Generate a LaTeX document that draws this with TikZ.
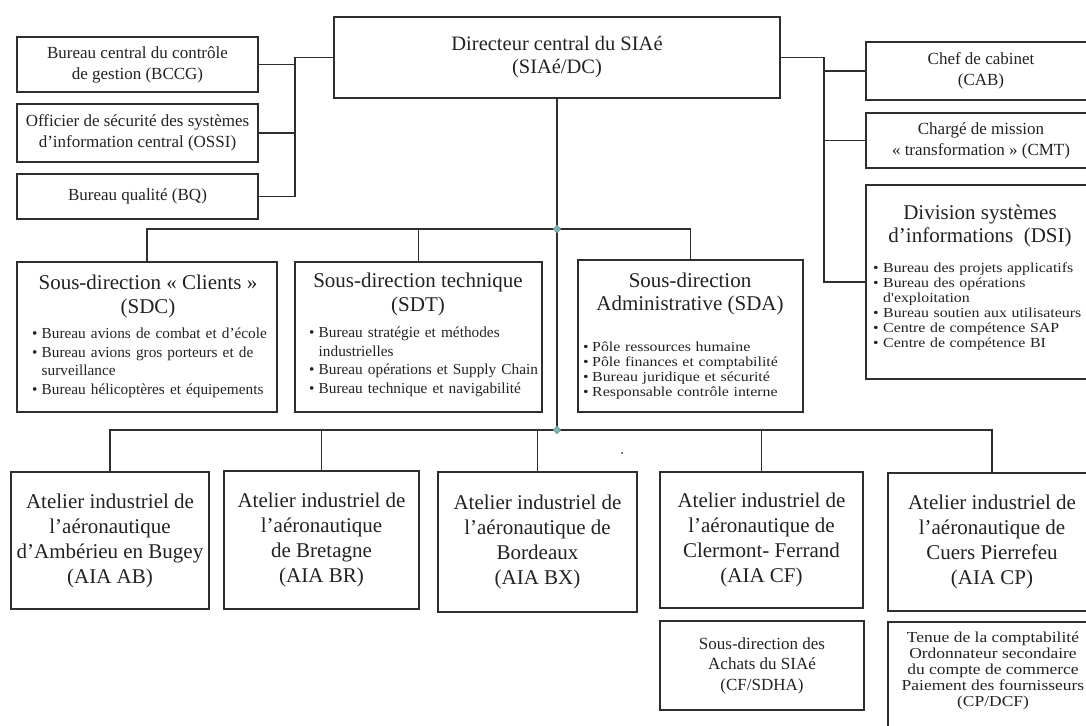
\documentclass[tikz,border=0pt]{standalone}
\usepackage{fontspec}
\setmainfont{Liberation Serif}
\newfontfamily\widefont[FakeStretch=1.15]{Liberation Serif}
\usetikzlibrary{shapes.geometric}
\definecolor{ln}{HTML}{2E2E2E}
\definecolor{tx}{HTML}{222222}
\definecolor{jn}{HTML}{7DB3B3}
\newcommand\fDC{\fontsize{20.5}{23}\selectfont}
\newcommand\fS{\fontsize{17}{21}\selectfont}
\newcommand\fT{\fontsize{21}{24.5}\selectfont}
\newcommand\fB{\fontsize{15.3}{18.5}\selectfont}
\newcommand\fBs{\widefont\fontsize{13.8}{15}\selectfont}
\newcommand\fA{\fontsize{21}{25}\selectfont}
\newcommand\fH{\fontsize{17}{20.5}\selectfont}
\newcommand\fP{\widefont\fontsize{15.2}{16}\selectfont}
\newlength\bh
\newcommand\bli[1]{\par\noindent\hangindent=\bh\hangafter=1\strut\makebox[\bh][l]{\textbullet}#1}
\newcommand\mkbox[7]{\node[box,#6,minimum width={(#4-#2)*1pt},minimum height={(#5-#3)*1pt}] (#1) at ({(#2+#4)/2},{(#3+#5)/2}) {#7};}
\tikzset{
  box/.style={draw=ln,line width=1.7pt,inner sep=0pt,align=center,text=tx,rectangle},
  conn/.style={draw=ln,line width=1.7pt},
  ttl/.style={anchor=north,inner sep=0pt,align=center,text=tx,font=\fT},
  lst/.style={anchor=north west,inner sep=0pt,text width=260pt,align=left,text=tx},
  jdot/.style={diamond,fill=jn,draw=jn!80!black,line width=0.4pt,inner sep=0pt,minimum size=8pt}
}
\begin{document}
\begin{tikzpicture}[x=1pt,y=-1pt]
\useasboundingbox (0,0) rectangle (1086,725);
% top
\mkbox{dc}{334}{17}{780}{98}{font=\fDC}{Directeur central du SIAé\\(SIAé/DC)}
\mkbox{bccg}{17}{37}{258}{92}{font=\fS}{Bureau central du contrôle\\de gestion (BCCG)}
\mkbox{ossi}{17}{104}{258}{162}{font=\fS}{Officier de sécurité des systèmes\\d'information central (OSSI)}
\mkbox{bq}{17}{174}{258}{219}{font=\fS}{Bureau qualité (BQ)}
\mkbox{cab}{866}{42}{1096}{100}{font=\fS}{Chef de cabinet\\(CAB)}
\mkbox{cmt}{866}{113}{1096}{168}{font=\fS}{Chargé de mission\\« transformation » (CMT)}
\mkbox{dsi}{866}{185}{1096}{379}{}{}
\node[ttl,font=\fontsize{21}{23}\selectfont] (dsiT) at (980,203) {\strut Division systèmes\\d'informations~~(DSI)};
\node[lst,font=\fBs] (dsiL) at (873,257.5) {\setlength\bh{10pt}%
\bli{Bureau des projets applicatifs}
\bli{Bureau des opérations\break d'exploitation}
\bli{Bureau soutien aux utilisateurs}
\bli{Centre de compétence SAP}
\bli{Centre de compétence BI}};
% sous-directions
\mkbox{sdc}{17}{262}{277}{412}{}{}
\node[ttl] (sdcT) at (148,272) {\strut Sous-direction « Clients »\\(SDC)};
\node[lst,font=\fB] (sdcL) at (32,320) {\setlength\bh{9.5pt}%
\bli{Bureau avions de combat et d'école}
\bli{Bureau avions gros porteurs et de\break surveillance}
\bli{Bureau hélicoptères et équipements}};
\mkbox{sdt}{295}{262}{542}{412}{}{}
\node[ttl] (sdtT) at (418,270) {\strut Sous-direction technique\\(SDT)};
\node[lst,font=\fB] (sdtL) at (309,319) {\setlength\bh{9.5pt}%
\bli{Bureau stratégie et méthodes\break industrielles}
\bli{Bureau opérations et Supply Chain}
\bli{Bureau technique et navigabilité}};
\mkbox{sda}{578}{260}{803}{412}{}{}
\node[ttl,font=\fontsize{21}{23}\selectfont] (sdaT) at (690,271) {\strut Sous-direction\\Administrative (SDA)};
\node[lst,font=\fBs] (sdaL) at (583,336.5) {\setlength\bh{9pt}%
\bli{Pôle ressources humaine}
\bli{Pôle finances et comptabilité}
\bli{Bureau juridique et sécurité}
\bli{Responsable contrôle interne}};
% ateliers
\mkbox{ab}{11}{472}{209}{609}{font=\fA}{Atelier industriel de\\l'aéronautique\\d'Ambérieu en Bugey\\(AIA AB)}
\mkbox{br}{224}{471}{419}{609}{font=\fA}{Atelier industriel de\\l'aéronautique\\de Bretagne\\(AIA BR)}
\mkbox{bx}{438}{472}{637}{612}{font=\fA}{Atelier industriel de\\l'aéronautique de\\Bordeaux\\(AIA BX)}
\mkbox{cf}{660}{472}{863}{608}{font=\fA}{Atelier industriel de\\l'aéronautique de\\Clermont- Ferrand\\(AIA CF)}
\mkbox{cp}{888}{473}{1096}{611}{font=\fA}{Atelier industriel de\\l'aéronautique de\\Cuers Pierrefeu\\(AIA CP)}
\mkbox{sdha}{660}{621}{864}{710}{font=\fH}{Sous-direction des\\Achats du SIAé\\(CF/SDHA)}
\mkbox{dcf}{888}{622}{1096}{745}{}{}
\node[anchor=north,inner sep=0pt,align=center,text=tx,font=\fP] (dcfT) at (993,631) {\strut Tenue de la comptabilité\\Ordonnateur secondaire\\du compte de commerce\\Paiement des fournisseurs\\(CP/DCF)};
% connectors
\draw[conn] (dc.west) -- ++(-38,0) coordinate (L0);
\draw[conn] (L0) |- (bq.east);
\draw[conn] (bccg.east) -- (bccg.east -| L0);
\draw[conn] (ossi.east) -- (ossi.east -| L0);
\draw[conn] (dc.east) -- ++(43,0) coordinate (R0);
\draw[conn] (R0) |- (dsi.west);
\draw[conn] (cab.west) -- (cab.west -| R0);
\draw[conn] (cmt.west) -- (cmt.west -| R0);
\coordinate (J1) at (dc.south |- 0,229);
\coordinate (J2) at (dc.south |- 0,430);
\draw[conn] (dc.south) -- (J2);
\draw[conn] (sdc.north) |- (sda.north |- J1) -- (sda.north);
\draw[conn] (sdt.north) -- (sdt.north |- J1);
\draw[conn] (ab.north) |- (cp.north |- J2) -- (cp.north);
\draw[conn] (br.north) -- (br.north |- J2);
\draw[conn] (bx.north) -- (bx.north |- J2);
\draw[conn] (cf.north) -- (cf.north |- J2);
\node[jdot] (j1) at (J1) {};
\node[jdot] (j2) at (J2) {};
\fill[ln] (622,453) circle (1);
\end{tikzpicture}
\end{document}
